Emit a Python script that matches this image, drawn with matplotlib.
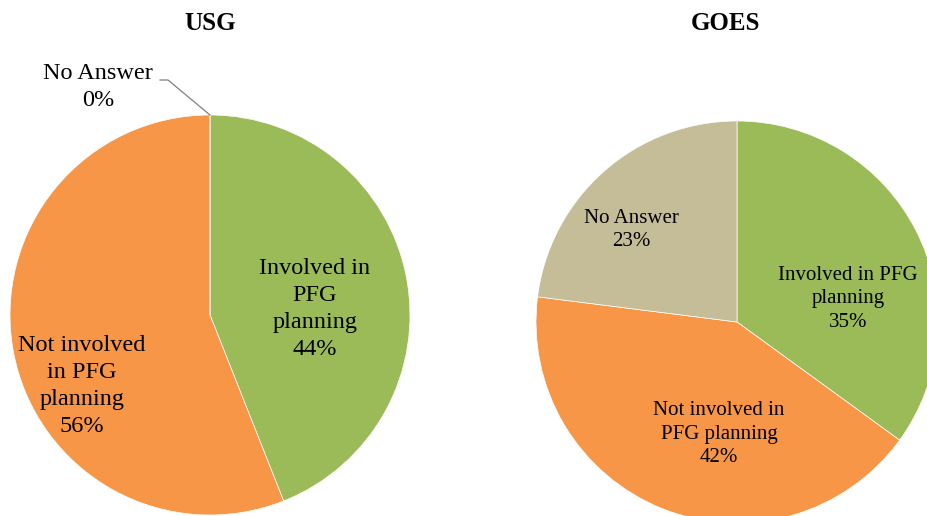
import matplotlib
matplotlib.use("Agg")
import matplotlib.pyplot as plt

# Данные
categories = ["Involved in PFG planning", "Not involved in PFG planning", "No Answer"]
usg_values = [44, 56, 0]
goes_values = [35, 42, 23]
colors = ["#9BBB59", "#F79646", "#C4BD97"]

usg_labels = ["Involved in\nPFG\nplanning\n44%", "Not involved\nin PFG\nplanning\n56%", "No Answer\n0%"]
goes_labels = ["Involved in PFG\nplanning\n35%", "Not involved in\nPFG planning\n42%", "No Answer\n23%"]

W, H = 927, 516
plt.rcParams["font.family"] = ["Liberation Serif", "DejaVu Serif"]

fig = plt.figure(figsize=(W / 100, H / 100), dpi=100)
ax = fig.add_axes([0, 0, 1, 1])


def y(py):
    # пиксельная координата сверху -> координата осей снизу
    return H - py


ax.pie(usg_values, colors=colors, startangle=90, counterclock=False,
       center=(210, y(315)), radius=200, frame=True,
       wedgeprops={"edgecolor": "white", "linewidth": 0.5})
ax.pie(goes_values, colors=colors, startangle=90, counterclock=False,
       center=(737, y(322)), radius=201, frame=True,
       wedgeprops={"edgecolor": "white", "linewidth": 0.5})
ax.set_xlim(0, W)
ax.set_ylim(0, H)
ax.set_aspect("equal")
ax.axis("off")

# Заголовки
ax.text(210, y(24), "USG", ha="center", va="center", fontsize=18, fontweight="bold")
ax.text(726, y(24), "GOES", ha="center", va="center", fontsize=18, fontweight="bold")

# Подписи USG
usg_pos = [(315, 309), (82, 386), (98, 87)]
for (px, py), lab in zip(usg_pos, usg_labels):
    ax.text(px, y(py), lab, ha="center", va="center", fontsize=17.5, linespacing=1.37)

# Выноска к нулевому сектору
ax.plot([160, 168, 210], [y(80), y(80), y(115)], color="#7F7F7F", lw=0.9)

# Подписи GOES
goes_pos = [(848, 299), (719, 434), (631, 230)]
for (px, py), lab in zip(goes_pos, goes_labels):
    ax.text(px, y(py), lab, ha="center", va="center", fontsize=15, linespacing=1.3)

fig.savefig("out.png", dpi=100)
plt.close(fig)
